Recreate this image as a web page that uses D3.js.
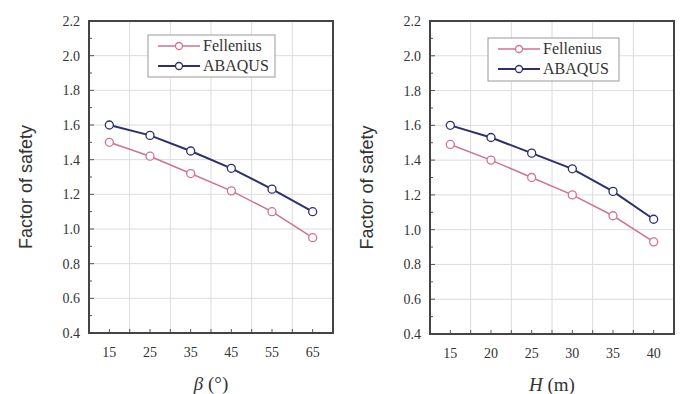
<!DOCTYPE html>
<html><head><meta charset="utf-8">
<script src="https://cdn.jsdelivr.net/npm/d3@7"></script>
<style>body{margin:0;background:#fff}svg{display:block}
.serif{font-family:"Liberation Serif","Times New Roman","DejaVu Serif",serif}
.sans{font-family:"Liberation Sans",Arial,sans-serif}</style>
</head><body>
<svg id="c" width="685" height="394"></svg>
<script>
const betaX = [15, 25, 35, 45, 55, 65];
const betaFellenius = [1.50, 1.42, 1.32, 1.22, 1.10, 0.95];
const betaAbaqus = [1.60, 1.54, 1.45, 1.35, 1.23, 1.10];
const hX = [15, 20, 25, 30, 35, 40];
const hFellenius = [1.49, 1.40, 1.30, 1.20, 1.08, 0.93];
const hAbaqus = [1.60, 1.53, 1.44, 1.35, 1.22, 1.06];
const yTicks = [0.4, 0.6, 0.8, 1.0, 1.2, 1.4, 1.6, 1.8, 2.0, 2.2];
const seriesNames = ["Fellenius", "ABAQUS"];
const colors = {Fellenius: "#d0738f", ABAQUS: "#2c306c"};

const svg = d3.select("#c");

function panel(o) {
  const g = svg.append("g");
  const x = d3.scaleLinear().domain(o.xDomain).range([o.left, o.right]);
  const y = d3.scaleLinear().domain([0.4, 2.2]).range([o.bottom, o.top]);
  g.selectAll(".vg").data(o.gridX).enter().append("line")
    .attr("x1", d => x(d)).attr("x2", d => x(d)).attr("y1", o.top).attr("y2", o.bottom)
    .attr("stroke", "#dcdcdc").attr("stroke-width", 1);
  g.selectAll(".hg").data(yTicks.slice(1, -1)).enter().append("line")
    .attr("x1", o.left).attr("x2", o.right).attr("y1", d => y(d)).attr("y2", d => y(d))
    .attr("stroke", "#dcdcdc").attr("stroke-width", 1);
  const yMinor = d3.range(0.5, 2.2, 0.2);
  g.selectAll(".ym").data(yMinor).enter().append("line")
    .attr("x1", o.left).attr("x2", o.left + 3).attr("y1", d => y(d)).attr("y2", d => y(d))
    .attr("stroke", "#555").attr("stroke-width", 1);
  g.selectAll(".yM").data(yTicks).enter().append("line")
    .attr("x1", o.left).attr("x2", o.left + 5).attr("y1", d => y(d)).attr("y2", d => y(d))
    .attr("stroke", "#555").attr("stroke-width", 1);
  const xt = o.xTicks.concat(o.gridX);
  g.selectAll(".xt").data(xt).enter().append("line")
    .attr("x1", d => x(d)).attr("x2", d => x(d)).attr("y1", o.bottom).attr("y2", o.bottom - 4)
    .attr("stroke", "#555").attr("stroke-width", 1);
  g.append("rect").attr("x", o.left).attr("y", o.top)
    .attr("width", o.right - o.left).attr("height", o.bottom - o.top)
    .attr("fill", "none").attr("stroke", "#444").attr("stroke-width", 2);
  g.selectAll(".yl").data(yTicks).enter().append("text").attr("class", "serif")
    .attr("x", o.left - 9).attr("y", d => y(d) + 5)
    .attr("text-anchor", "end")
    .attr("font-size", 14).attr("fill", "#333").text(d => d.toFixed(1));
  g.selectAll(".xl").data(o.xTicks).enter().append("text").attr("class", "serif")
    .attr("x", d => x(d)).attr("y", o.bottom + 24)
    .attr("text-anchor", "middle")
    .attr("font-size", 14).attr("fill", "#333").text(d => d);
  g.append("text").attr("class", "sans")
    .attr("transform", `translate(${o.yTitleX},${(o.top + o.bottom) / 2 + 10}) rotate(-90)`)
    .attr("text-anchor", "middle")
    .attr("font-size", 18).attr("fill", "#333").text("Factor of safety");
  const xt2 = g.append("text").attr("class", "serif")
    .attr("x", (o.left + o.right) / 2).attr("y", o.bottom + 57)
    .attr("text-anchor", "middle")
    .attr("font-size", 19).attr("fill", "#333");
  xt2.append("tspan").attr("font-style", "italic").text(o.xSym);
  xt2.append("tspan").text(o.xUnit);
  const sets = [[seriesNames[0], o.fel], [seriesNames[1], o.aba]];
  sets.forEach(([name, vals]) => {
    const pts = o.xVals.map((v, i) => [v, vals[i]]);
    g.append("path").datum(pts)
      .attr("d", d3.line().x(d => x(d[0])).y(d => y(d[1])))
      .attr("fill", "none").attr("stroke", colors[name])
      .attr("stroke-width", name === "ABAQUS" ? 2 : 1.5);
    g.selectAll(null).data(pts).enter().append("circle")
      .attr("cx", d => x(d[0])).attr("cy", d => y(d[1])).attr("r", 4)
      .attr("fill", "#fff").attr("stroke", colors[name]).attr("stroke-width", 1.3);
  });
  const L = o.legend;
  g.append("rect").attr("x", L.x).attr("y", L.y).attr("width", L.w).attr("height", L.h)
    .attr("fill", "#fff").attr("stroke", "#999").attr("stroke-width", 1);
  seriesNames.forEach((name, i) => {
    const yy = L.y + 11 + i * 20;
    g.append("line").attr("x1", L.x + 10).attr("x2", L.x + 52).attr("y1", yy).attr("y2", yy)
      .attr("stroke", colors[name]).attr("stroke-width", name === "ABAQUS" ? 2 : 1.5);
    g.append("circle").attr("cx", L.x + 31).attr("cy", yy).attr("r", 3.5)
      .attr("fill", "#fff").attr("stroke", colors[name]).attr("stroke-width", 1.3);
    g.append("text").attr("class", "serif").attr("x", L.x + 55).attr("y", yy + 5)
      .attr("font-size", 16).attr("fill", "#333").text(name);
  });
}

panel({left: 89, right: 333, top: 21, bottom: 333, xDomain: [10, 70],
  xTicks: betaX, gridX: [20, 30, 40, 50, 60], xVals: betaX,
  fel: betaFellenius, aba: betaAbaqus, yTitleX: 32, xSym: "β", xUnit: " (°)",
  legend: {x: 148, y: 35, w: 127, h: 42}});
panel({left: 430, right: 674, top: 21, bottom: 334, xDomain: [12.5, 42.5],
  xTicks: hX, gridX: [17.5, 22.5, 27.5, 32.5, 37.5], xVals: hX,
  fel: hFellenius, aba: hAbaqus, yTitleX: 373, xSym: "H", xUnit: " (m)",
  legend: {x: 488, y: 38, w: 131, h: 43}});
</script>
</body></html>
